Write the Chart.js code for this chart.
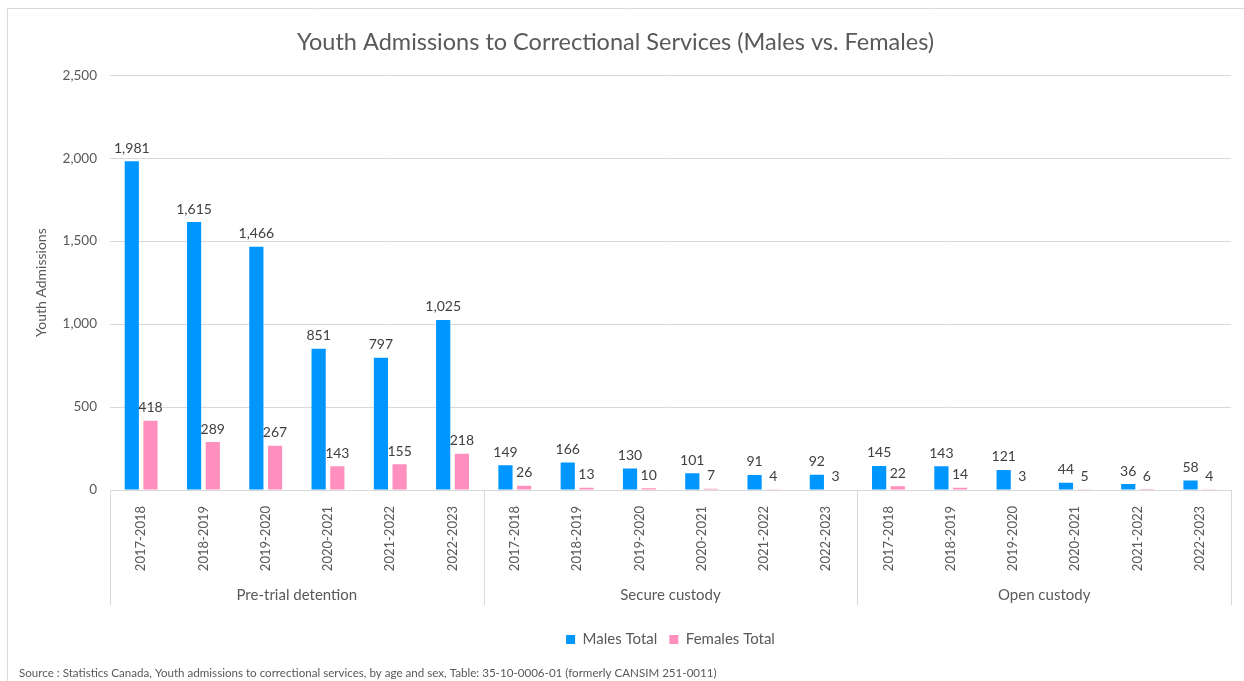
<!DOCTYPE html>
<html>
<head>
<meta charset="utf-8">
<script src="https://cdn.jsdelivr.net/npm/chart.js@4/dist/chart.umd.min.js"></script>
<style>
  html, body { margin: 0; padding: 0; background: #fff; }
  #wrap { width: 1244px; height: 681px; position: relative; }
</style>
</head>
<body>
<div id="wrap"><canvas id="chart"></canvas></div>
<script>
const groups = ['Pre-trial detention', 'Secure custody', 'Open custody']
const years = ['2017-2018', '2018-2019', '2019-2020', '2020-2021', '2021-2022', '2022-2023']
const males = [1981, 1615, 1466, 851, 797, 1025, 149, 166, 130, 101, 91, 92, 145, 143, 121, 44, 36, 58]
const females = [418, 289, 267, 143, 155, 218, 26, 13, 10, 7, 4, 3, 22, 14, 3, 5, 6, 4]
const yTicks = [0, 500, 1000, 1500, 2000, 2500]

const labels = []
groups.forEach(() => years.forEach(y => labels.push(y)))

const FONT = 'Lato'
const fmt = v => v.toLocaleString('en-US')

// outer frame, like the Excel chart area border
const framePlugin = {
    id: 'frame',
    beforeDraw(chart) {
        const c = chart.ctx
        c.save()
        c.strokeStyle = '#d9d9d9'
        c.lineWidth = 1
        c.beginPath()
        c.moveTo(7.5, chart.height)
        c.lineTo(7.5, 8.5)
        c.lineTo(chart.width, 8.5)
        c.stroke()
        c.restore()
    }
}

// value labels above every bar
const valueLabels = {
    id: 'valueLabels',
    afterDatasetsDraw(chart) {
        const c = chart.ctx
        c.save()
        c.font = '14px ' + FONT
        c.fillStyle = '#404040'
        c.textAlign = 'center'
        c.textBaseline = 'bottom'
        chart.data.datasets.forEach((ds, i) => {
            chart.getDatasetMeta(i).data.forEach((bar, j) => {
                c.fillText(fmt(ds.data[j]), bar.x, bar.y - 6)
            })
        })
        c.restore()
    }
}

// second level of the category axis + source note
const groupAxis = {
    id: 'groupAxis',
    afterDraw(chart) {
        const c = chart.ctx
        const a = chart.chartArea
        const step = (a.right - a.left) / labels.length
        const bottom = a.bottom + 115
        c.save()
        c.strokeStyle = '#d9d9d9'
        c.lineWidth = 1
        for (let g = 0; g <= groups.length; g++) {
            const x = Math.round(a.left + g * years.length * step) + 0.5
            c.beginPath()
            c.moveTo(x, a.bottom)
            c.lineTo(x, bottom)
            c.stroke()
        }
        c.font = '15px ' + FONT
        c.fillStyle = '#595959'
        c.textAlign = 'center'
        c.textBaseline = 'middle'
        groups.forEach((name, g) => {
            const x = a.left + (g * years.length + years.length / 2) * step
            c.fillText(name, x, a.bottom + 105)
        })
        c.font = '11.6px ' + FONT
        c.textAlign = 'left'
        c.fillText('Source : Statistics Canada, Youth admissions to correctional services, by age and sex, Table: 35-10-0006-01 (formerly CANSIM 251-0011)', 19, 673)
        c.restore()
    }
}

Chart.defaults.font.family = FONT
Chart.defaults.color = '#595959'

new Chart(document.getElementById('chart'), {
    type: 'bar',
    data: {
        labels: labels,
        datasets: [
            { label: 'Males Total', data: males, backgroundColor: '#0096ff' },
            { label: 'Females Total', data: females, backgroundColor: '#ff8fbe' }
        ]
    },
    options: {
        responsive: true,
        maintainAspectRatio: false,
        animation: false,
        layout: { padding: { left: 0, right: 13, top: 8, bottom: 24 } },
        datasets: { bar: { categoryPercentage: 0.6, barPercentage: 0.76 } },
        scales: {
            x: {
                grid: { display: false },
                border: { display: false },
                ticks: { minRotation: 90, maxRotation: 90, autoSkip: false, padding: 8, font: { size: 13 }, color: '#595959' },
                afterFit(scale) { scale.height = 130 }
            },
            y: {
                min: 0,
                max: 2500,
                afterBuildTicks(scale) { scale.ticks = yTicks.map(v => ({ value: v })) },
                grid: { color: '#d9d9d9', drawTicks: false },
                border: { display: false },
                ticks: { padding: 13, font: { size: 13.5 }, color: '#595959', callback: v => fmt(v) },
                title: { display: true, text: 'Youth Admissions', font: { size: 14 }, color: '#595959', padding: { top: 33, bottom: 0 } },
                afterFit(scale) { scale.width = 110 }
            }
        },
        plugins: {
            title: {
                display: true,
                text: 'Youth Admissions to Correctional Services (Males vs. Females)',
                font: { size: 23.5, weight: 'normal' },
                color: '#595959',
                padding: { top: 20, bottom: 19 }
            },
            legend: {
                position: 'bottom',
                fullSize: false,
                labels: { boxWidth: 9, boxHeight: 9, font: { size: 15 }, color: '#595959', padding: 12 }
            },
            tooltip: { enabled: false }
        }
    },
    plugins: [framePlugin, valueLabels, groupAxis]
})
</script>
</body>
</html>
